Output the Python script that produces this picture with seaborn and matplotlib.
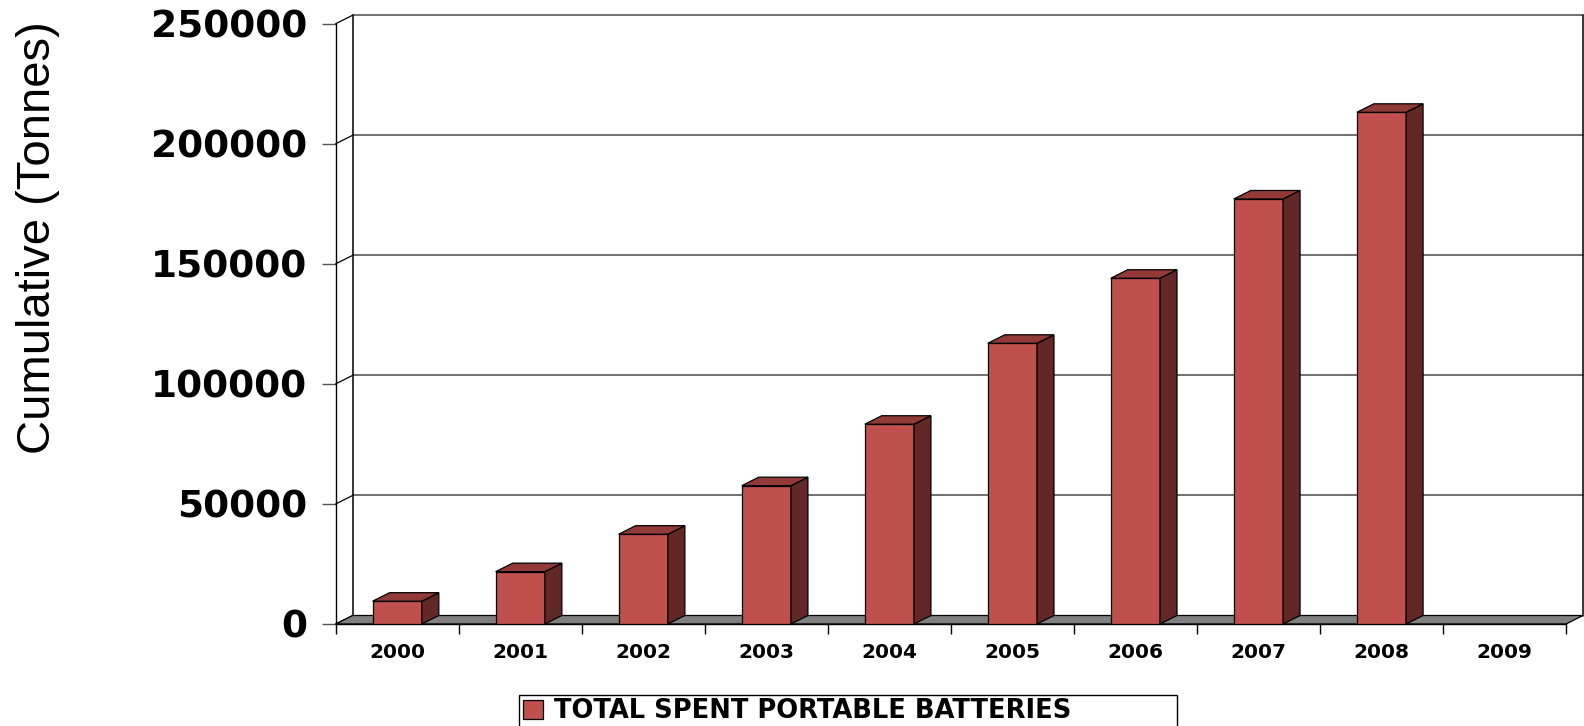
import numpy as np
import pandas as pd
import matplotlib
matplotlib.use("Agg")
import matplotlib.pyplot as plt
from matplotlib.patches import Polygon, Rectangle
import seaborn as sns

# ---- data ----
years = ["2000", "2001", "2002", "2003", "2004", "2005", "2006", "2007", "2008", "2009"]
cumulative = [9500, 21800, 37400, 57600, 83200, 116900, 144000, 177000, 213100, None]
y_ticks = [0, 50000, 100000, 150000, 200000, 250000]
series_label = "TOTAL SPENT PORTABLE BATTERIES"
y_label = "Cumulative (Tonnes)"

# ---- style ----
FRONT = "#C0504D"
TOP = "#923A38"
SIDE = "#622727"
FLOOR = "#808080"
GRID = "#4a4a4a"

sns.set_theme(style="white")
plt.rcParams["font.family"] = ["DejaVu Sans"]
plt.rcParams["text.color"] = "black"
plt.rcParams["axes.labelcolor"] = "black"
plt.rcParams["xtick.color"] = "black"
plt.rcParams["ytick.color"] = "black"

W, H, DPI = 1584, 726, 100
fig = plt.figure(figsize=(W / DPI, H / DPI), dpi=DPI)
ax_l, ax_r, ax_b, ax_t = 335.7, 1566.0, 624.0, 23.7
ax = fig.add_axes([ax_l / W, (H - ax_b) / H, (ax_r - ax_l) / W, (ax_b - ax_t) / H])

df = pd.DataFrame({"year": years, "value": cumulative}).dropna()
sns.barplot(data=df, x="year", y="value", order=years, color=FRONT, width=0.4,
            edgecolor="black", linewidth=0.9, errorbar=None, saturation=1,
            label=series_label, ax=ax, zorder=3)
bars = [p for p in ax.patches if isinstance(p, Rectangle) and np.isfinite(p.get_height())]

ax.set_xlim(-0.5, len(years) - 0.5)
ax.set_ylim(y_ticks[0], y_ticks[-1])

# depth offset (in data units) for the pseudo-3D look
px_x = (ax_r - ax_l) / len(years)
px_y = (ax_b - ax_t) / (y_ticks[-1] - y_ticks[0])
DX = 17.0 / px_x
DY = 8.5 / px_y
x0, x1 = -0.5, len(years) - 0.5

# back wall gridlines and edges
for t in y_ticks[1:]:
    ax.plot([x0 + DX, x1 + DX], [t + DY, t + DY], color=GRID, lw=1.1,
            clip_on=False, zorder=0.5)
for t in y_ticks:
    ax.plot([x0, x0 + DX], [t, t + DY], color="black", lw=0.9, clip_on=False, zorder=0.6)
ax.plot([x0 + DX, x0 + DX], [DY, y_ticks[-1] + DY], color="black", lw=1.1,
        clip_on=False, zorder=0.6)
ax.plot([x1 + DX, x1 + DX], [DY, y_ticks[-1] + DY], color="black", lw=1.1,
        clip_on=False, zorder=0.6)

# floor
ax.add_patch(Polygon([[x0, 0], [x1, 0], [x1 + DX, DY], [x0 + DX, DY]], closed=True,
                     facecolor=FLOOR, edgecolor="black", lw=0.9, clip_on=False, zorder=1))

# 3D faces of the bars derived from the seaborn patches
for p in bars:
    h = p.get_height()
    l = p.get_x()
    r = l + p.get_width()
    ax.add_patch(Polygon([[r, 0], [r, h], [r + DX, h + DY], [r + DX, DY]], closed=True,
                         facecolor=SIDE, edgecolor="black", lw=0.9, clip_on=False, zorder=3))
    ax.add_patch(Polygon([[l, h], [r, h], [r + DX, h + DY], [l + DX, h + DY]], closed=True,
                         facecolor=TOP, edgecolor="black", lw=0.9, clip_on=False, zorder=3))

# axes/spines
for s in ["top", "right"]:
    ax.spines[s].set_visible(False)
ax.spines["left"].set_color("black")
ax.spines["left"].set_linewidth(1.0)
ax.spines["bottom"].set_color("black")
ax.spines["bottom"].set_linewidth(1.0)
ax.spines["left"].set_zorder(0.7)

ax.set_yticks(y_ticks)
ax.set_yticklabels([str(t) for t in y_ticks], fontsize=27, fontweight="bold",
                   family="DejaVu Sans", color="black")
ax.tick_params(axis="y", which="major", direction="out", length=10, width=1,
               color="#555555", labelcolor="black", pad=10.5, left=True)

ax.set_xticks(np.arange(x0, x1 + 0.01, 1.0))
ax.set_xticklabels([])
ax.set_xticks(np.arange(len(years)), minor=True)
ax.set_xticklabels(years, minor=True, fontsize=14.5, fontweight="bold",
                   family="DejaVu Sans", color="black")
ax.tick_params(axis="x", which="major", direction="out", length=7.2, width=1,
               color="black", bottom=True)
ax.tick_params(axis="x", which="minor", length=0, pad=13.5, bottom=True, labelcolor="black")
ax.set_xlabel("")

ax.set_ylabel(y_label, fontsize=34, family="Liberation Sans", fontweight="normal",
              color="black")
ax.yaxis.label.set_va("center")
ax.yaxis.set_label_coords((38 - ax_l) / (ax_r - ax_l), (ax_b - 237.5) / (ax_b - ax_t))

ax.grid(False)
ax.set_facecolor("white")

leg = ax.legend(loc="upper left",
                bbox_to_anchor=(519 / W, (H - 694.5) / H, (1177 - 519) / W, 0),
                bbox_transform=fig.transFigure, mode="expand",
                prop={"family": "DejaVu Sans", "weight": "bold", "size": 18.5},
                frameon=True, fancybox=False, shadow=False,
                handlelength=0.78, handleheight=0.78, handletextpad=0.42,
                borderpad=0.15, borderaxespad=0)
leg.get_frame().set_edgecolor("black")
leg.get_frame().set_linewidth(1.0)
leg.get_frame().set_alpha(1)
for t in leg.get_texts():
    t.set_color("black")

fig.savefig("out.png", dpi=DPI, facecolor="white")
